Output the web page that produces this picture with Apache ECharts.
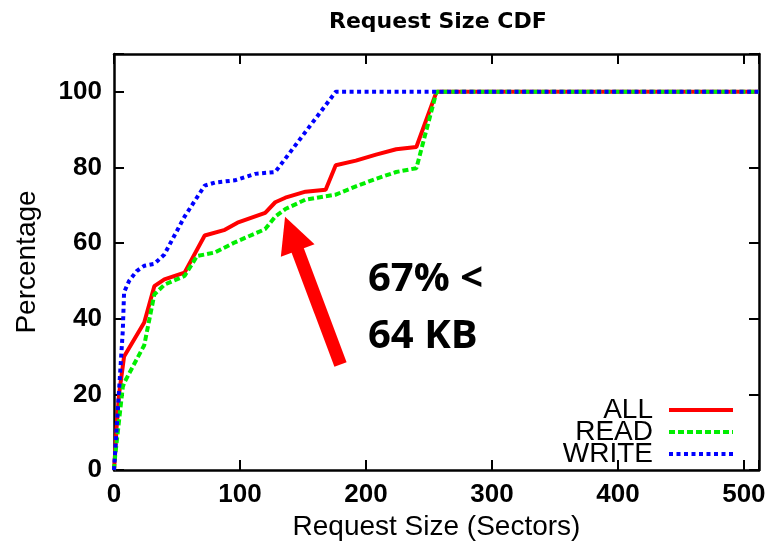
<!DOCTYPE html>
<html>
<head>
<meta charset="utf-8">
<script src="https://cdn.jsdelivr.net/npm/echarts@6/dist/echarts.min.js"></script>
<style>
    html, body {margin:0; padding:0; background:#fff;}
    #chart {width:772px; height:544px;}
</style>
</head>
<body>
<div id="chart"></div>
<script>
    // request size (sectors) -> cumulative percentage
    var allSize   = [0, 1, 2, 4, 8, 24, 32, 40, 56, 72, 88, 98, 120, 128, 136, 152, 168, 176, 192, 208, 224, 240, 256, 512]
    var allPct    = [0, 5, 11, 20, 30, 39, 48.6, 50.4, 52.2, 62, 63.5, 65.4, 68, 70.8, 72, 73.6, 74.1, 80.6, 81.8, 83.4, 84.8, 85.4, 100, 100]
    var readSize  = [0, 1, 4, 7, 8, 24, 32, 40, 56, 66, 80, 96, 120, 128, 136, 152, 176, 192, 208, 224, 240, 256, 512]
    var readPct   = [0, 4, 13, 22, 23, 33, 46.4, 49, 51.3, 56.6, 57.5, 60.2, 63.7, 67, 69, 71.5, 72.8, 75, 77, 78.8, 79.8, 100, 100]
    var writeSize = [0, 4, 7, 8, 12, 18, 24, 32, 40, 56, 72, 80, 96, 112, 128, 176, 512]
    var writePct  = [0, 21, 37, 47, 50, 52.6, 54, 54.5, 57, 67, 75.2, 76, 76.6, 78.3, 78.8, 100, 100]

    var xTicks = {min: 0, max: 512, interval: 100}
    var yTicks = {min: 0, max: 110, interval: 20}

    // annotation arrow (data coords): tail -> middle of the head
    var arrowTail = [179.8, 27.9]
    var arrowHead = [140.8, 62.5]

    function pairs(xs, ys) {
        return xs.map(function (x, i) { return [x, ys[i]] })
    }

    var font = 'Liberation Sans'
    var frame = {show: true, onZero: false, lineStyle: {color: '#000', width: 2.5}}
    var tick = {show: true, inside: true, length: 10, lineStyle: {color: '#000', width: 2}}

    var chart = echarts.init(document.getElementById('chart'))
    var option = {
        animation: false,
        title: {
            text: 'Request Size CDF',
            left: 324,
            top: 6,
            textStyle: {fontFamily: 'DejaVu Sans', fontSize: 22, fontWeight: 'bold', color: '#000'}
        },
        grid: {left: 114, right: 13, top: 54, bottom: 74, outerBoundsMode: 'none'},
        legend: {
            orient: 'vertical',
            align: 'right',
            right: 37,
            top: 396,
            padding: 0,
            itemGap: -6,
            itemWidth: 64,
            itemHeight: 14,
            itemStyle: {opacity: 0},
            lineStyle: {width: 4},
            textStyle: {fontFamily: font, fontSize: 28, color: '#000', padding: [0, 11, 0, 0]},
            data: ['ALL', 'READ', 'WRITE']
        },
        xAxis: [
            {
                type: 'value', position: 'bottom',
                min: xTicks.min, max: xTicks.max, interval: xTicks.interval,
                axisLine: frame, axisTick: tick, splitLine: {show: false},
                axisLabel: {
                    margin: 12, color: '#000', fontFamily: font, fontSize: 26, fontWeight: 'bold',
                    formatter: function (v) { return v > 500 ? '' : v }
                },
                name: 'Request Size (Sectors)', nameLocation: 'middle', nameGap: 42,
                nameTextStyle: {fontFamily: font, fontSize: 28, color: '#000'}
            },
            {
                type: 'value', position: 'top',
                min: xTicks.min, max: xTicks.max, interval: xTicks.interval,
                axisLine: frame, axisTick: tick, splitLine: {show: false}, axisLabel: {show: false}
            }
        ],
        yAxis: [
            {
                type: 'value', position: 'left',
                min: yTicks.min, max: yTicks.max, interval: yTicks.interval,
                axisLine: frame, axisTick: tick, splitLine: {show: false},
                axisLabel: {
                    margin: 12, color: '#000', fontFamily: font, fontSize: 26, fontWeight: 'bold',
                    formatter: function (v) { return v > 100 ? '' : v }
                },
                name: 'Percentage', nameLocation: 'middle', nameGap: 73,
                nameTextStyle: {fontFamily: font, fontSize: 28, color: '#000'}
            },
            {
                type: 'value', position: 'right',
                min: yTicks.min, max: yTicks.max, interval: yTicks.interval,
                axisLine: frame, axisTick: tick, splitLine: {show: false}, axisLabel: {show: false}
            }
        ],
        series: [
            {
                name: 'ALL', type: 'line', symbol: 'none',
                data: pairs(allSize, allPct),
                itemStyle: {color: '#ff0000'},
                lineStyle: {color: '#ff0000', width: 4},
                markLine: {
                    silent: true,
                    symbol: ['none', 'triangle'],
                    symbolSize: 36,
                    label: {show: false},
                    lineStyle: {color: '#ff0000', width: 13, type: 'solid'},
                    data: [[{coord: arrowTail}, {coord: arrowHead}]]
                }
            },
            {
                name: 'READ', type: 'line', symbol: 'none',
                data: pairs(readSize, readPct),
                itemStyle: {color: '#00ee00'},
                lineStyle: {color: '#00ee00', width: 4, type: [6, 3]}
            },
            {
                name: 'WRITE', type: 'line', symbol: 'none',
                data: pairs(writeSize, writePct),
                itemStyle: {color: '#0000ff'},
                lineStyle: {color: '#0000ff', width: 4, type: [4, 3.5]}
            }
        ],
        graphic: [
            {type: 'text', x: 368, y: 280, style: {text: '67% <', font: 'bold 40px "Open Sans"', fill: '#000', verticalAlign: 'middle'}},
            {type: 'text', x: 368, y: 337, style: {text: '64 KB', font: 'bold 40px "Open Sans"', fill: '#000', verticalAlign: 'middle'}}
        ]
    }
    chart.setOption(option)
</script>
</body>
</html>
